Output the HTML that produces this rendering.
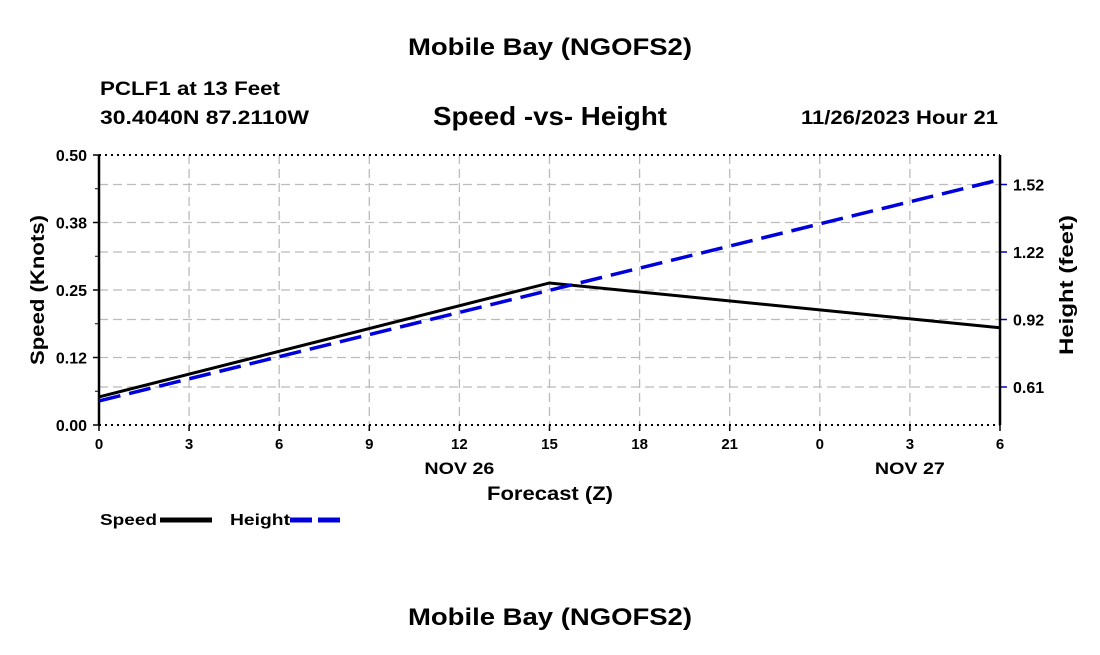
<!DOCTYPE html>
<html><head><meta charset="utf-8"><style>
body{margin:0;background:#fff;}
svg text{font-family:"Liberation Sans",sans-serif;font-weight:bold;fill:#000;}
</style></head><body>
<svg id="chart" width="1100" height="650" viewBox="0 0 1100 650">
<text x="408" y="55" font-size="24" textLength="284" lengthAdjust="spacingAndGlyphs">Mobile Bay (NGOFS2)</text>
<text x="100" y="95" font-size="19" textLength="180" lengthAdjust="spacingAndGlyphs">PCLF1 at 13 Feet</text>
<text x="100" y="124" font-size="19" textLength="209" lengthAdjust="spacingAndGlyphs">30.4040N  87.2110W</text>
<text x="433" y="125" font-size="26" textLength="234" lengthAdjust="spacingAndGlyphs">Speed -vs- Height</text>
<text x="801" y="124" font-size="19" textLength="197" lengthAdjust="spacingAndGlyphs">11/26/2023 Hour 21</text>
<g id="grid"></g>
<g id="axes"></g>
<g id="series"></g>
<text x="487" y="500" font-size="19" textLength="126" lengthAdjust="spacingAndGlyphs">Forecast (Z)</text>
<text transform="translate(44,365) rotate(-90)" font-size="19" textLength="150" lengthAdjust="spacingAndGlyphs">Speed (Knots)</text>
<text transform="translate(1073,355) rotate(-90)" font-size="19" textLength="140" lengthAdjust="spacingAndGlyphs">Height (feet)</text>
<g>
<g><text x="100" y="525" font-size="16" textLength="57" lengthAdjust="spacingAndGlyphs">Speed</text><line x1="160" y1="520" x2="212" y2="520" stroke="#000" stroke-width="5"/></g>
<g><text x="230" y="525" font-size="16" textLength="60" lengthAdjust="spacingAndGlyphs">Height</text><line x1="290" y1="520" x2="342" y2="520" stroke="#0000dd" stroke-width="5" stroke-dasharray="22,6"/></g>
</g>
<text x="408" y="625" font-size="24" textLength="284" lengthAdjust="spacingAndGlyphs">Mobile Bay (NGOFS2)</text>
</svg>
<script>
const xTicksHours=[0,3,6,9,12,15,18,21,24,27,30];
const xTickLabels=["0","3","6","9","12","15","18","21","0","3","6"];
const dayLabels=["NOV 26","NOV 27"];
const dayLabelHours=[12,27];
const speedTicks=[0,0.125,0.25,0.375,0.5];
const speedTickLabels=["0.00","0.12","0.25","0.38","0.50"];
const heightTicks=[0.61,0.915,1.22,1.525];
const heightTickLabels=["0.61","0.92","1.22","1.52"];
const speedHours=[0,15,30];
const speedValues=[0.052,0.263,0.180];
const heightHours=[0,30];
const heightValues=[0.547,1.547];

const L=99,R=1000,T=155,B=425;
const X=h=>L+(h-0)/30*(R-L);
const YS=v=>B-v/0.5*(B-T);
const YH=v=>387-(v-0.61)/0.305*67.5;
const NS="http://www.w3.org/2000/svg";
function mk(tag,attrs,parent){const e=document.createElementNS(NS,tag);for(const k in attrs)e.setAttribute(k,attrs[k]);parent.appendChild(e);return e;}
const grid=document.getElementById('grid'),axes=document.getElementById('axes'),series=document.getElementById('series');
xTicksHours.forEach((h,i)=>{
  const x=X(h);
  if(i>0&&i<xTicksHours.length-1){const g=mk('line',{x1:x,y1:T,x2:x,y2:B,stroke:'#bbb','stroke-width':1.3,'stroke-dasharray':'9,5'},grid);
  
  }
  const t=mk('line',{x1:x,y1:B,x2:x,y2:B+6,stroke:'#000','stroke-width':1.5},axes);
  
  
  const tt=mk('text',{x:x,y:B+24,'font-size':15,'text-anchor':'middle'},axes);tt.textContent=xTickLabels[i];
  
  
});
dayLabels.forEach((d,i)=>{const t=mk('text',{x:X(dayLabelHours[i])-35,y:B+49,'font-size':17,textLength:70,lengthAdjust:'spacingAndGlyphs'},axes);t.textContent=d;
  
  });
speedTicks.forEach((v,i)=>{
  const y=YS(v);
  if(i>0&&i<speedTicks.length-1){const g=mk('line',{x1:L,y1:y,x2:R,y2:y,stroke:'#bbb','stroke-width':1.3,'stroke-dasharray':'9,5'},grid);
  
  }
  const t=mk('line',{x1:L-6,y1:y,x2:L,y2:y,stroke:'#000','stroke-width':1.5},axes);
  
  
  if(i<speedTicks.length-1){mk('line',{x1:L-4,y1:YS(v+0.0625),x2:L,y2:YS(v+0.0625),stroke:'#000','stroke-width':1},axes);}
  const tt=mk('text',{x:L-12,y:y+6,'font-size':16,'text-anchor':'end'},axes);tt.textContent=speedTickLabels[i];
  
  
});
heightTicks.forEach((v,i)=>{
  const y=YH(v);
  const g=mk('line',{x1:L,y1:y,x2:R,y2:y,stroke:'#bbb','stroke-width':1.3,'stroke-dasharray':'9,5'},grid);
  
  
  const t=mk('line',{x1:R,y1:y,x2:R+7,y2:y,stroke:'#0000cc','stroke-width':1.5},axes);
  
  
  const tt=mk('text',{x:R+13,y:y+6,'font-size':16},axes);tt.textContent=heightTickLabels[i];
  
  
});
[T,B].forEach(y=>{mk('line',{x1:L,y1:y,x2:R,y2:y,stroke:'#000','stroke-width':2,'stroke-dasharray':'2,4'},axes);});
mk('line',{x1:L,y1:T,x2:L,y2:B,stroke:'#000','stroke-width':2.5},axes);
mk('line',{x1:R,y1:T,x2:R,y2:B,stroke:'#000','stroke-width':2.5},axes);
const sp=mk('polyline',{points:speedHours.map((h,i)=>X(h)+','+YS(speedValues[i])).join(' '),fill:'none',stroke:'#000','stroke-width':3},series);


const hp=mk('polyline',{points:heightHours.map((h,i)=>X(h)+','+YH(heightValues[i])).join(' '),fill:'none',stroke:'#0000dd','stroke-width':3.5,'stroke-dasharray':'22,9'},series);


</script>
</body></html>
